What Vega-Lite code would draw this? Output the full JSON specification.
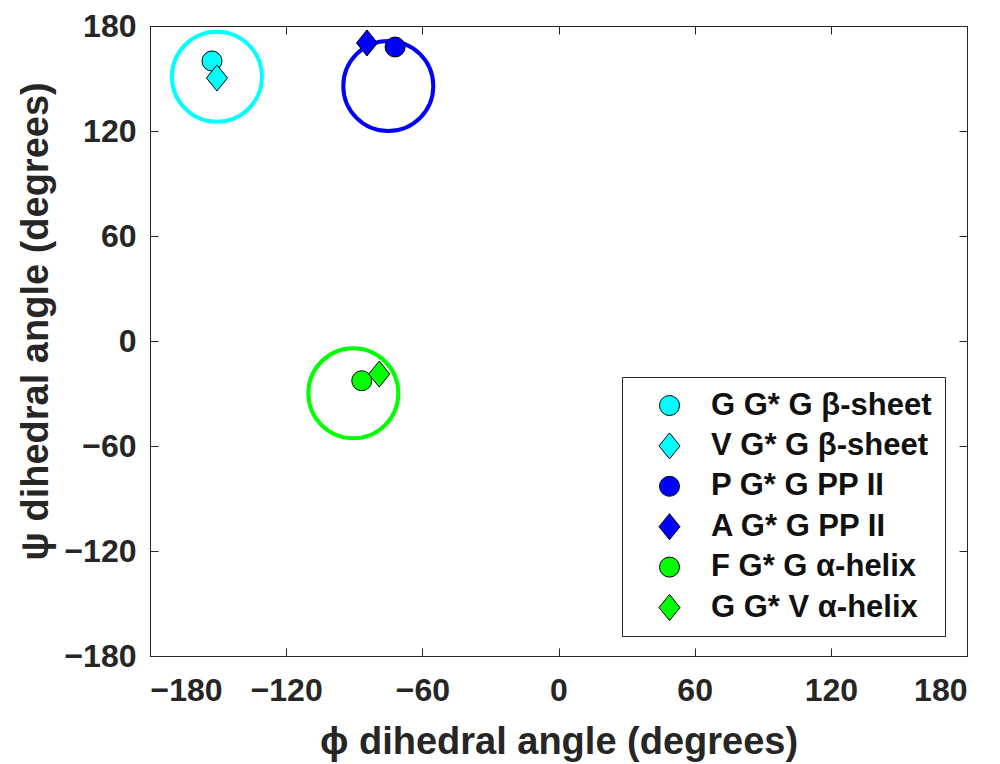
{
  "$schema": "https://vega.github.io/schema/vega-lite/v6.json",
  "width": 817,
  "height": 630,
  "autosize": {"type": "none"},
  "padding": {"left": 150, "top": 26, "right": 33, "bottom": 108},
  "background": "white",
  "config": {
    "view": {"stroke": null},
    "font": "Liberation Sans",
    "axis": {
      "grid": false,
      "domainColor": "#262626",
      "tickColor": "#262626",
      "labelColor": "#262626",
      "titleColor": "#262626",
      "labelFont": "Liberation Sans",
      "titleFont": "Liberation Sans",
      "labelFontWeight": "bold",
      "titleFontWeight": "bold",
      "labelFontSize": 32,
      "titleFontSize": 38,
      "tickSize": -8,
      "domainWidth": 1,
      "tickWidth": 1
    },
    "legend": {
      "orient": "none",
      "legendX": 472,
      "legendY": 351,
      "strokeColor": "#262626",
      "fillColor": "white",
      "padding": 13,
      "symbolOffset": 19,
      "labelOffset": 26,
      "labelFont": "Liberation Sans",
      "labelFontSize": 31,
      "labelFontWeight": "bold",
      "labelColor": "#111111",
      "rowPadding": 8.4,
      "symbolSize": 400,
      "symbolStrokeColor": "black",
      "symbolStrokeWidth": 1,
      "labelLimit": 400
    }
  },
  "datasets": {
    "rings": [
      {"region": "β-sheet", "phi": -150.5, "psi": 151, "color": "#00FFFF"},
      {"region": "PP II", "phi": -75, "psi": 145.7, "color": "#0000FF"},
      {"region": "α-helix", "phi": -90.4, "psi": -29.9, "color": "#00FF00"}
    ],
    "points": [
      {"label": "G G* G β-sheet", "phi": -152.7, "psi": 160},
      {"label": "V G* G β-sheet", "phi": -150.5, "psi": 150.3},
      {"label": "P G* G PP II", "phi": -72, "psi": 168},
      {"label": "A G* G PP II", "phi": -84.4, "psi": 170.3},
      {"label": "F G* G α-helix", "phi": -86.7, "psi": -22.7},
      {"label": "G G* V α-helix", "phi": -79, "psi": -18.9}
    ]
  },
  "layer": [
    {
      "data": {"name": "rings"},
      "mark": {"type": "point", "shape": "circle", "filled": false, "size": 8100, "strokeWidth": 4, "opacity": 1},
      "encoding": {
        "x": {"field": "phi", "type": "quantitative", "scale": {"domain": [-180, 180], "nice": false},
          "axis": {"orient": "bottom", "values": [-180, -120, -60, 0, 60, 120, 180], "title": "ϕ dihedral angle (degrees)", "labelPadding": 27, "titlePadding": 17}},
        "y": {"field": "psi", "type": "quantitative", "scale": {"domain": [-180, 180], "nice": false},
          "axis": {"orient": "left", "values": [-180, -120, -60, 0, 60, 120, 180], "title": "ψ dihedral angle (degrees)", "labelPadding": 22, "titlePadding": 8, "titleY": 295}},
        "stroke": {"field": "color", "type": "nominal", "scale": null, "legend": null}
      }
    },
    {
      "data": {"name": "points"},
      "mark": {"type": "point", "filled": true, "size": 400, "stroke": "black", "strokeWidth": 1, "opacity": 1},
      "encoding": {
        "x": {"field": "phi", "type": "quantitative", "scale": {"domain": [-180, 180], "nice": false},
          "axis": {"orient": "top", "values": [-180, -120, -60, 0, 60, 120, 180], "labels": false, "title": null}},
        "y": {"field": "psi", "type": "quantitative", "scale": {"domain": [-180, 180], "nice": false},
          "axis": {"orient": "right", "values": [-180, -120, -60, 0, 60, 120, 180], "labels": false, "title": null}},
        "color": {"field": "label", "type": "nominal", "title": null,
          "scale": {"domain": ["G G* G β-sheet", "V G* G β-sheet", "P G* G PP II", "A G* G PP II", "F G* G α-helix", "G G* V α-helix"],
                    "range": ["#00FFFF", "#00FFFF", "#0000FF", "#0000FF", "#00FF00", "#00FF00"]}},
        "shape": {"field": "label", "type": "nominal", "title": null,
          "scale": {"domain": ["G G* G β-sheet", "V G* G β-sheet", "P G* G PP II", "A G* G PP II", "F G* G α-helix", "G G* V α-helix"],
                    "range": ["circle", "M0,-1.3L1.05,0L0,1.3L-1.05,0Z", "circle", "M0,-1.3L1.05,0L0,1.3L-1.05,0Z", "circle", "M0,-1.3L1.05,0L0,1.3L-1.05,0Z"]}}
      }
    }
  ],
  "resolve": {"axis": {"x": "independent", "y": "independent"}}
}
